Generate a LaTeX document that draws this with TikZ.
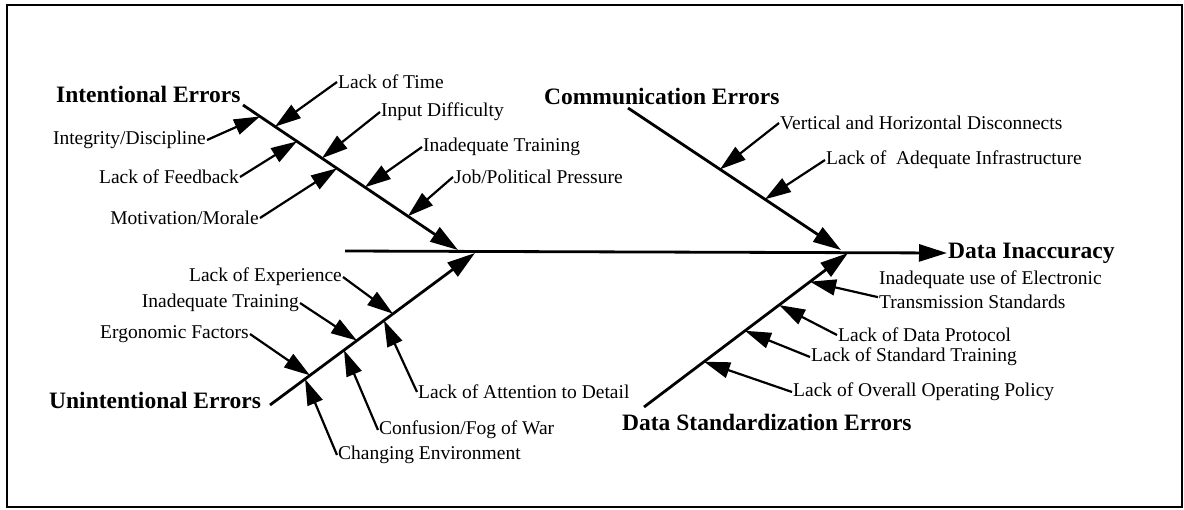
\documentclass[tikz,border=0pt]{standalone}
\usepackage{fontspec}
\setmainfont{Liberation Serif}
\usetikzlibrary{arrows.meta,calc}
\tikzset{
  lbl/.style={inner sep=1pt, font=\fontsize{19.5}{24}\selectfont},
  hdr/.style={inner sep=1pt, font=\fontsize{23.5}{26}\selectfont\bfseries},
  bone/.style={line width=2.8pt, -{Triangle[length=28pt,width=17pt]}},
  cause/.style={line width=2.2pt, -{Triangle[length=26pt,width=16pt]}}
}
\begin{document}
\begin{tikzpicture}[x=1pt,y=-1pt]
  \useasboundingbox (0,0) rectangle (1184,509);
  \draw[line width=2.2pt] (7,5) rectangle (1182,507);

  \node[hdr, anchor=west] (ie) at (55,94) {Intentional Errors};
  \node[hdr, anchor=west] (ue) at (48,400) {Unintentional Errors};
  \node[hdr, anchor=west] (ce) at (543,96) {Communication Errors};
  \node[hdr, anchor=west] (dse) at (621,422) {Data Standardization Errors};
  \node[hdr, anchor=west] (di) at (947,253) {Data Inaccuracy};

  \coordinate (spS) at (345,251);
  \coordinate (ieS) at (243,105);
  \coordinate (ieE) at (458,250);
  \coordinate (ueS) at (270,405);
  \coordinate (ueE) at (475,253);
  \coordinate (ceS) at (628,108);
  \coordinate (ceE) at (841,250);
  \coordinate (deS) at (644,407);
  \coordinate (deE) at (848,253);

  \draw[bone] (spS) -- (di.west);
  \draw[bone] (ieS) -- (ieE);
  \draw[bone] (ueS) -- (ueE);
  \draw[bone] (ceS) -- (ceE);
  \draw[bone] (deS) -- (deE);

  \coordinate (itA) at ($(ieS)!0.079!(ieE)$);
  \coordinate (itB) at ($(ieS)!0.149!(ieE)$);
  \coordinate (itC) at ($(ieS)!0.251!(ieE)$);
  \coordinate (itD) at ($(ieS)!0.367!(ieE)$);
  \coordinate (itE) at ($(ieS)!0.437!(ieE)$);
  \coordinate (itF) at ($(ieS)!0.567!(ieE)$);
  \coordinate (itG) at ($(ieS)!0.767!(ieE)$);
  \coordinate (utA) at ($(ueS)!0.171!(ueE)$);
  \coordinate (utB) at ($(ueS)!0.195!(ueE)$);
  \coordinate (utC) at ($(ueS)!0.361!(ueE)$);
  \coordinate (utD) at ($(ueS)!0.424!(ueE)$);
  \coordinate (utE) at ($(ueS)!0.556!(ueE)$);
  \coordinate (utF) at ($(ueS)!0.600!(ueE)$);
  \coordinate (ctA) at ($(ceS)!0.432!(ceE)$);
  \coordinate (ctB) at ($(ceS)!0.643!(ceE)$);
  \coordinate (dtA) at ($(deS)!0.294!(deE)$);
  \coordinate (dtB) at ($(deS)!0.495!(deE)$);
  \coordinate (dtC) at ($(deS)!0.662!(deE)$);
  \coordinate (dtD) at ($(deS)!0.814!(deE)$);

  \node[lbl, anchor=east] (integ) at (207,140) {Integrity/Discipline};
  \node[lbl, anchor=east] (feedb) at (240,177) {Lack of Feedback};
  \node[lbl, anchor=east] (motiv) at (260,218) {Motivation/Morale};
  \node[lbl, anchor=west] (ltime) at (337,82) {Lack of Time};
  \node[lbl, anchor=west] (input) at (380,112) {Input Difficulty};
  \node[lbl, anchor=west] (itrain) at (422,147) {Inadequate Training};
  \node[lbl, anchor=west] (job) at (453,177) {Job/Political Pressure};

  \node[lbl, anchor=east] (exper) at (343,277) {Lack of Experience};
  \node[lbl, anchor=east] (utrain) at (300,303) {Inadequate Training};
  \node[lbl, anchor=east] (ergo) at (250,334) {Ergonomic Factors};
  \node[lbl, anchor=west] (attn) at (417,392) {Lack of Attention to Detail};
  \node[lbl, anchor=west] (confu) at (378,430) {Confusion/Fog of War};
  \node[lbl, anchor=west] (chenv) at (337,455) {Changing Environment};

  \node[lbl, anchor=west] (vhd) at (779,123) {Vertical and Horizontal Disconnects};
  \node[lbl, anchor=west] (lai) at (825,160) {Lack of\ \ Adequate Infrastructure};

  \node[lbl, anchor=north west, align=left] (elec) at (878,270) {Inadequate use of Electronic\\Transmission Standards};
  \node[lbl, anchor=west] (proto) at (837,335) {Lack of Data Protocol};
  \node[lbl, anchor=west] (stdtr) at (810,357) {Lack of Standard Training};
  \node[lbl, anchor=west] (overall) at (792,392) {Lack of Overall Operating Policy};

  \draw[cause] (integ.east) -- (itA);
  \draw[cause] (ltime.west) -- (itB);
  \draw[cause] (feedb.east) -- (itC);
  \draw[cause] (input.west) -- (itD);
  \draw[cause] (motiv.east) -- (itE);
  \draw[cause] (itrain.west) -- (itF);
  \draw[cause] (job.west) -- (itG);

  \draw[cause] (chenv.west) -- (utA);
  \draw[cause] (ergo.east) -- (utB);
  \draw[cause] (confu.west) -- (utC);
  \draw[cause] (utrain.east) -- (utD);
  \draw[cause] (attn.west) -- (utE);
  \draw[cause] (exper.east) -- (utF);

  \draw[cause] (vhd.west) -- (ctA);
  \draw[cause] (lai.west) -- (ctB);

  \draw[cause] (overall.west) -- (dtA);
  \draw[cause] (stdtr.west) -- (dtB);
  \draw[cause] (proto.west) -- (dtC);
  \draw[cause] ([yshift=-7pt]elec.west) -- (dtD);
\end{tikzpicture}
\end{document}
